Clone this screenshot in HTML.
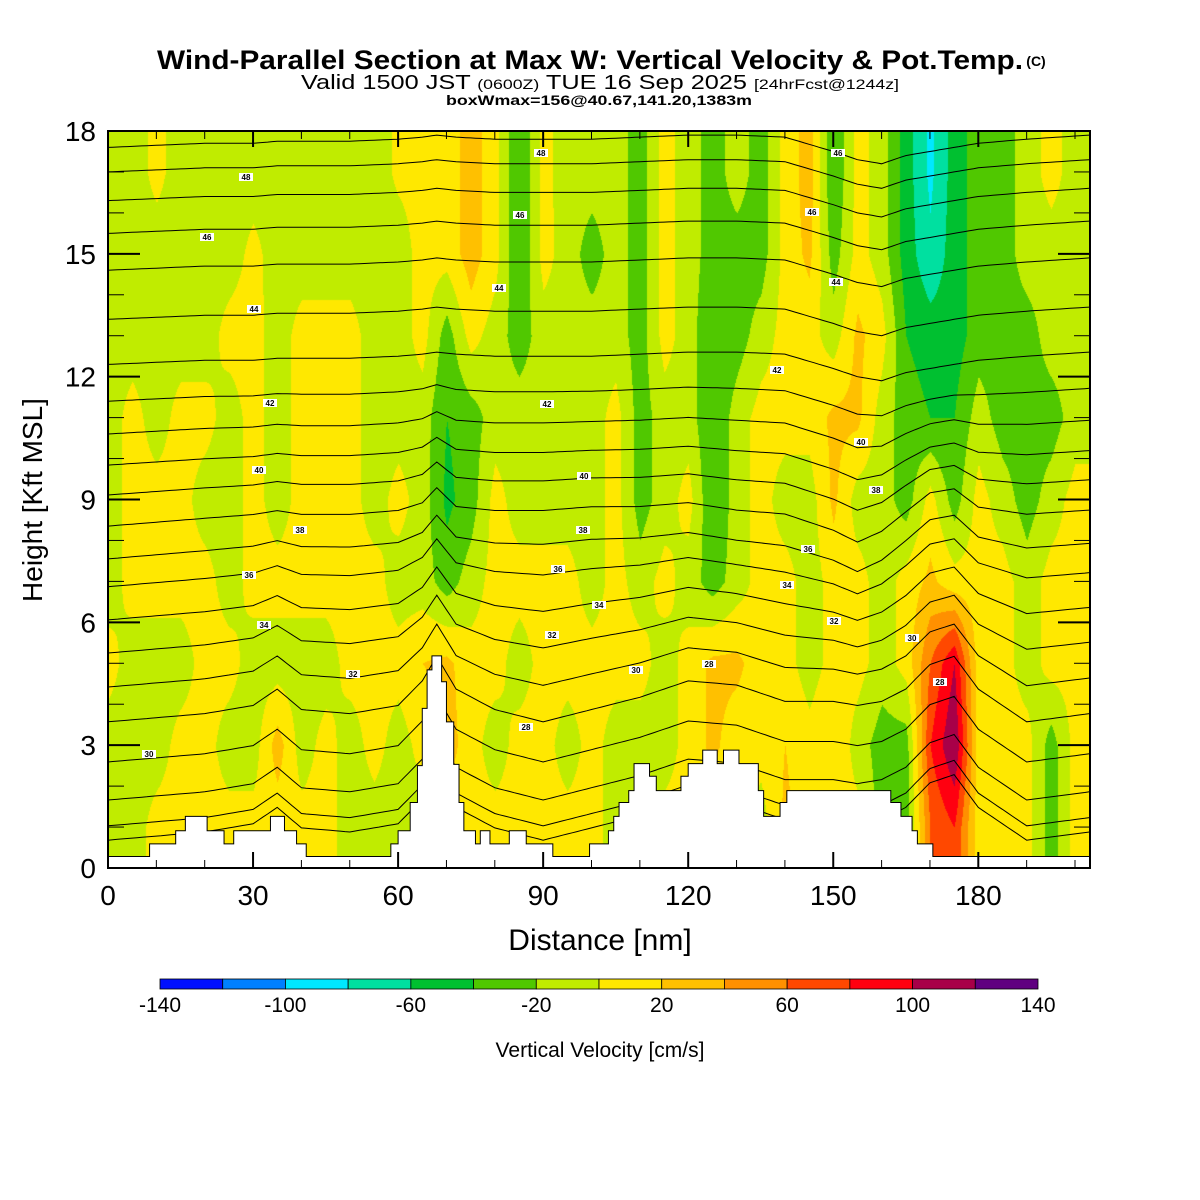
<!DOCTYPE html>
<html><head><meta charset="utf-8">
<style>
html,body{margin:0;padding:0;background:#fff;}
#wrap{position:relative;width:1200px;height:1200px;overflow:hidden;font-family:"Liberation Sans",sans-serif;}
#heat{position:absolute;left:108px;top:131px;}
#ov{position:absolute;left:0;top:0;}
</style></head>
<body>
<div id="wrap">
<canvas id="heat" width="982" height="737"></canvas>
<svg id="ov" width="1200" height="1200" xmlns="http://www.w3.org/2000/svg">
  <text x="590" y="69" font-size="27" font-weight="bold" text-anchor="middle" textLength="866" lengthAdjust="spacingAndGlyphs">Wind-Parallel Section at Max W: Vertical Velocity &amp; Pot.Temp.</text>
  <text x="1036" y="66" font-size="14" font-weight="bold" text-anchor="middle">(C)</text>
  <text x="600" y="89" font-size="20" text-anchor="middle" textLength="598" lengthAdjust="spacingAndGlyphs">Valid 1500 JST <tspan font-size="14">(0600Z)</tspan> TUE 16 Sep 2025 <tspan font-size="14">[24hrFcst@1244z]</tspan></text>
  <text x="599" y="105" font-size="14" font-weight="bold" text-anchor="middle" textLength="306" lengthAdjust="spacingAndGlyphs">boxWmax=156@40.67,141.20,1383m</text>
  <g id="contours"></g>
  <g id="terrain"></g>
  <g id="clabels"></g>
  <g id="axes"></g>
  <text x="600" y="950" font-size="30" text-anchor="middle">Distance [nm]</text>
  <text transform="translate(42,500) rotate(-90)" font-size="28" text-anchor="middle">Height [Kft MSL]</text>
  <g id="cbar"></g>
  <text x="600" y="1057" font-size="21" text-anchor="middle">Vertical Velocity [cm/s]</text>
</svg>
</div>
<script>
// ---- data ----
const colX = [0,5,10,15,20,25,30,35,40,45,50,55,60,65,70,75,80,85,90,95,100,105,110,115,120,125,130,135,140,145,150,155,160,165,170,175,180,185,190,195,200];
const rowH = [1,3,5,7,9,11,13,15,17];
const w1  = [-10,-10,8,8,8,8,8,8,8,8,-10,-10,-10,-10,8,8,8,8,8,8,8,-10,-10,8,8,8,8,-10,25,8,8,8,-30,-30,60,80,8,8,8,-30,8];
const w3  = [-10,-10,-10,8,8,-10,-10,30,-10,8,-10,8,-10,8,30,8,-10,8,8,-10,8,-10,-10,-10,8,25,8,8,20,8,20,-10,-30,-30,80,120,8,8,8,-30,8];
const w5  = [8,-10,-10,-10,8,8,-10,-10,-10,-10,8,8,8,20,25,8,8,-10,8,8,8,8,8,-10,8,25,25,8,8,-10,8,8,-10,8,60,100,8,8,-10,8,8];
const w7  = [-10,8,8,8,8,-10,8,8,8,8,8,8,-10,-10,-30,-10,8,8,8,8,-10,8,-10,8,-10,-30,-10,8,8,-10,8,8,-10,8,25,8,8,8,-10,8,8];
const w9  = [-10,8,8,8,-10,-10,8,-10,8,8,8,-10,8,-10,-45,-30,8,-10,-10,-10,-10,8,-30,-10,8,-40,-10,8,-10,-10,25,-10,-10,-30,8,-30,8,-10,-30,-10,8];
const w11 = [-10,8,-10,8,8,-10,8,-10,8,8,8,-10,-10,-10,-40,-30,-10,-10,-10,-10,-10,8,-30,-10,-10,-40,-10,8,8,8,25,25,-10,-30,-40,-40,-10,-30,-30,-30,-10];
const w13 = [-10,-10,-10,-10,-10,8,8,-10,8,8,8,-10,-10,8,-30,8,-10,-30,-10,-10,-10,-10,-30,8,-10,-40,-30,-10,8,8,-10,25,8,-40,-50,-50,-30,-30,-30,-10,-10];
const w15 = [-10,-10,-10,-10,-10,-10,6,-10,-10,-10,-10,-10,-10,8,8,30,8,-40,8,-10,-30,-10,-30,8,-10,-30,-30,-30,8,25,-30,8,-10,-50,-75,-50,-30,-30,-10,-10,-10];
const w17 = [-10,-10,6,-10,-10,-10,-10,-10,-10,-10,-10,-10,4,6,8,30,8,-40,6,-10,-10,-10,-30,8,-10,-30,-10,-30,8,30,-40,8,-10,-50,-85,-50,-30,-30,-10,8,-10];
const wRows = [w1,w3,w5,w7,w9,w11,w13,w15,w17];
const levels = [-140,-120,-100,-80,-60,-40,-20,0,20,40,60,80,100,120,140];
const levelColors = ["#0010ff","#0080ff","#00e8ff","#00e0a0","#00c030","#50c800","#c0ec00","#ffe800","#ffc000","#ff9000","#ff4800","#ff0010","#a80048","#600080"];
const cbarLabels = [-140,-100,-60,-20,20,60,100,140];
const terrX = [0,8.6,14,16,20.5,24,26,33.6,36.5,39,41,58.5,60,62.5,64,65,66,67,69,70,71.5,72.6,73.6,76,77,79,83,86.5,92,99.6,103.5,104.6,105.7,107.7,108.8,112,113.4,118.5,120,123,126,127.3,130.5,134.5,135.6,139,140.4,161.9,164,166.3,167.4,170.6,203];
const terrH = [0.28,0.59,0.91,1.26,0.91,0.59,0.91,1.26,0.91,0.59,0.28,0.59,0.91,1.6,2.5,3.9,4.84,5.18,4.55,3.57,2.53,1.6,0.91,0.59,0.91,0.59,0.91,0.59,0.28,0.59,0.91,1.26,1.6,1.89,2.55,2.24,1.89,2.24,2.55,2.88,2.55,2.88,2.55,1.89,1.26,1.6,1.89,1.6,1.26,0.91,0.59,0.28,0.28];
const thetaBase = [17.6,17.0,16.3,15.5,14.6,13.4,12.3,11.4,10.6,9.84,9.11,8.35,7.55,6.87,6.06,5.25,4.42,3.57,2.59,1.66,1.03,0.68];
const dispX    = [0,10,20,30,35,40,50,60,65,68,72,80,90,100,110,120,130,140,150,155,160,165,170,175,180,190,203];
const dispLow  = [0,0.1,0.2,0.4,0.8,0.3,0.2,0.4,1.0,1.6,0.8,0.3,0,0.3,0.6,1.0,0.9,0.5,0.5,0.4,0.5,0.8,1.4,1.6,0.8,0,0.2];
const dispMid  = [0,0.1,0.2,0.3,0.4,0.3,0.3,0.4,0.6,1.0,0.5,0.4,0.4,0.5,0.5,0.6,0.4,0.3,-0.1,-0.4,-0.1,0.4,0.9,1.0,0.5,0.3,0.4];
const dispHigh = [0,0.05,0.1,0.1,0.15,0.15,0.15,0.2,0.25,0.3,0.25,0.2,0.2,0.2,0.25,0.3,0.3,0.25,-0.1,-0.3,-0.4,-0.2,-0.1,0,0.1,0.2,0.3];
const clabText = ["48","48","46","46","46","46","44","44","44","42","42","42","40","40","40","38","38","38","36","36","36","34","34","34","32","32","32","30","30","30","28","28","28"];
const clabPos = [[246,177],[541,153],[207,237],[520,215],[838,153],[812,212],[254,309],[499,288],[836,282],[270,403],[547,404],[777,370],[259,470],[584,476],[861,442],[300,530],[583,530],[876,490],[249,575],[558,569],[808,549],[264,625],[599,605],[787,585],[353,674],[552,635],[834,621],[149,754],[636,670],[912,638],[526,727],[709,664],[940,682]];
const xTicks = [0,30,60,90,120,150,180];
const yTicks = [0,3,6,9,12,15,18];

// ---- axes functions ----
const PX0=108, PX1=1090, PY0=131, PY1=868;
const X_MAX = (PX1-PX0)/4.835;
function sx(d){return PX0 + d*4.835;}
function sy(h){return PY1 - h*(PY1-PY0)/18;}
const NS="http://www.w3.org/2000/svg";
function mk(tag,attrs,parent){const e=document.createElementNS(NS,tag);for(const k in attrs)e.setAttribute(k,attrs[k]);parent.appendChild(e);return e;}
function interp(xs,ys,x){if(x<=xs[0])return ys[0];for(let i=1;i<xs.length;i++){if(x<=xs[i]){const t=(x-xs[i-1])/(xs[i]-xs[i-1]);return ys[i-1]+t*(ys[i]-ys[i-1]);}}return ys[ys.length-1];}

// ---- heatmap ----
(function(){
  const cv=document.getElementById('heat');const ctx=cv.getContext('2d');
  const W=cv.width,H=cv.height;const img=ctx.createImageData(W,H);
  const rgb=levelColors.map(c=>[parseInt(c.substr(1,2),16),parseInt(c.substr(3,2),16),parseInt(c.substr(5,2),16)]);
  for(let py=0;py<H;py++){
    const h=(H-py)/H*18;
    let r=0,t=0;
    if(h<=rowH[0]){r=0;t=0;}else if(h>=rowH[rowH.length-1]){r=rowH.length-2;t=1;}
    else{for(let i=0;i<rowH.length-1;i++){if(h<=rowH[i+1]){r=i;t=(h-rowH[i])/(rowH[i+1]-rowH[i]);break;}}}
    for(let px=0;px<W;px++){
      const d=px/4.835;
      let c=Math.min(colX.length-2,Math.floor(d/5));let u=Math.min(1,(d-colX[c])/5);
      const a=wRows[r],b=wRows[r+1];
      const v0=a[c]*(1-u)+a[c+1]*u, v1=b[c]*(1-u)+b[c+1]*u;
      const v=v0*(1-t)+v1*t;
      let k=Math.floor((v-levels[0])/20);k=Math.max(0,Math.min(levelColors.length-1,k));
      const o=(py*W+px)*4;img.data[o]=rgb[k][0];img.data[o+1]=rgb[k][1];img.data[o+2]=rgb[k][2];img.data[o+3]=255;
    }
  }
  ctx.putImageData(img,0,0);
})();

// ---- contours ----
(function(){
  const g=document.getElementById('contours');
  thetaBase.forEach(function(b){
    let pts=[];
    for(let d=0;d<=X_MAX;d+=1){
      const lo=interp(dispX,dispLow,d),mi=interp(dispX,dispMid,d),hi=interp(dispX,dispHigh,d);
      let disp;
      if(b<4)disp=lo;else if(b<8){const t=(b-4)/4;disp=lo*(1-t)+mi*t;}
      else if(b<12){const t=(b-8)/4;disp=mi*(1-t)+hi*t;}else disp=hi;
      const h=Math.min(18,b+disp);
      pts.push(sx(d).toFixed(1)+','+sy(h).toFixed(1));
    }
    const p=mk('polyline',{points:pts.join(' '),fill:'none',stroke:'#000','stroke-width':1},g);
    
    
  });
})();

// ---- terrain ----
(function(){
  const g=document.getElementById('terrain');
  let pts=[sx(0)+','+sy(0)];
  for(let i=0;i<terrX.length;i++){
    const x0=Math.min(X_MAX,terrX[i]);const x1=i<terrX.length-1?Math.min(X_MAX,terrX[i+1]):X_MAX;
    pts.push(sx(x0)+','+sy(terrH[i]));pts.push(sx(x1)+','+sy(terrH[i]));
  }
  pts.push(sx(X_MAX)+','+sy(0));
  const p=mk('polygon',{points:pts.join(' '),fill:'#fff',stroke:'#000','stroke-width':1},g);
  
  
})();

// ---- contour labels ----
(function(){
  const g=document.getElementById('clabels');
  clabText.forEach(function(t,i){
    const x=clabPos[i][0],y=clabPos[i][1];
    const r=mk('rect',{x:x-7,y:y-4,width:14,height:8,fill:'#fff'},g);
    
    
    const tx=mk('text',{x:x,y:y+3,'font-size':8,'font-weight':'bold','text-anchor':'middle'},g);
    tx.textContent=t;
    
    
  });
})();

// ---- axes ----
(function(){
  const g=document.getElementById('axes');
  const fr=mk('rect',{x:PX0,y:PY0,width:PX1-PX0,height:PY1-PY0,fill:'none',stroke:'#000','stroke-width':2},g);
  
  
  for(let d=0;d<=X_MAX;d+=10){
    const L=(d%30===0)?16:8;
    mk('line',{x1:sx(d),y1:PY1,x2:sx(d),y2:PY1-L,stroke:'#000','stroke-width':d%30===0?2:1},g);
    mk('line',{x1:sx(d),y1:PY0,x2:sx(d),y2:PY0+L,stroke:'#000','stroke-width':d%30===0?2:1},g);
  }
  for(let h=0;h<=18;h+=1){
    const L=(h%3===0)?32:16;
    mk('line',{x1:PX0,y1:sy(h),x2:PX0+L,y2:sy(h),stroke:'#000','stroke-width':h%3===0?2:1},g);
    mk('line',{x1:PX1,y1:sy(h),x2:PX1-L,y2:sy(h),stroke:'#000','stroke-width':h%3===0?2:1},g);
  }
  xTicks.forEach(function(d){
    const t=mk('text',{x:sx(d),y:905,'font-size':28,'text-anchor':'middle'},g);t.textContent=d;
    
    
  });
  yTicks.forEach(function(h){
    const t=mk('text',{x:96,y:sy(h)+10,'font-size':28,'text-anchor':'end'},g);t.textContent=h;
    
    
  });
})();

// ---- colorbar ----
(function(){
  const g=document.getElementById('cbar');
  const x0=160,x1=1038,bw=(x1-x0)/levelColors.length;
  levelColors.forEach(function(c,i){
    const r=mk('rect',{x:x0+i*bw,y:979,width:bw,height:10,fill:c,stroke:'#000','stroke-width':0.8},g);
    
    
  });
  cbarLabels.forEach(function(v){
    const x=x0+(v-levels[0])/20*bw;
    const t=mk('text',{x:x,y:1012,'font-size':21,'text-anchor':'middle'},g);t.textContent=v;
    
    
  });
})();
</script>
</body></html>
